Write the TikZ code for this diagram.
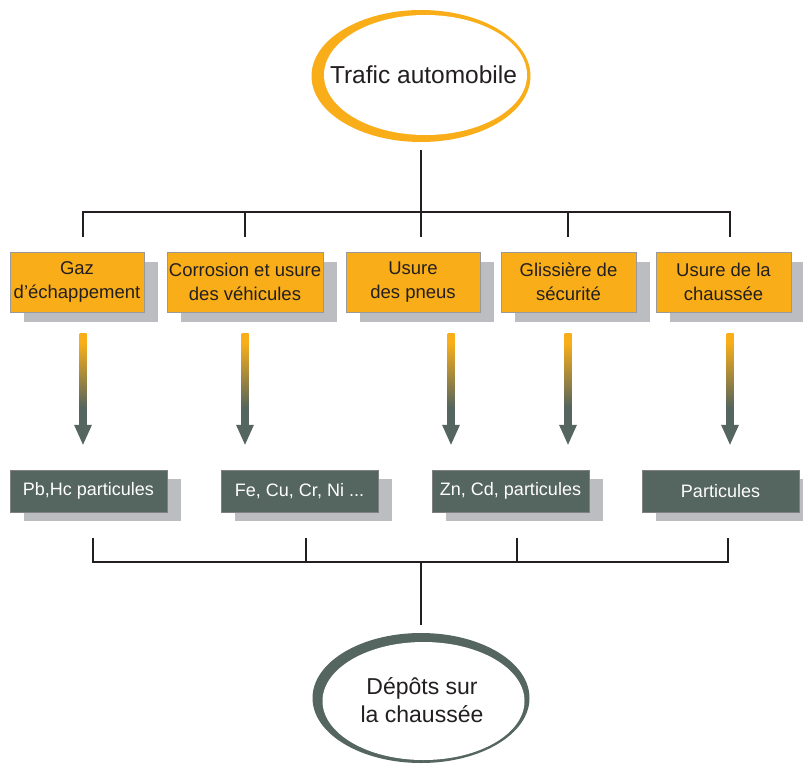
\documentclass[tikz,border=0pt]{standalone}
\usepackage{fontspec}
\setmainfont{Liberation Sans}
\usepackage{tikz}
\usetikzlibrary{calc,positioning,shapes.geometric,shadows}
\definecolor{TraficOrange}{HTML}{F9AE19}
\definecolor{DepotGrey}{HTML}{55655F}
\definecolor{ShadowGrey}{HTML}{BCBDC0}
\definecolor{InkBlack}{HTML}{231F20}
\pgfdeclareverticalshading{fluxshade}{100bp}{color(0bp)=(DepotGrey); color(35bp)=(DepotGrey); color(70bp)=(TraficOrange); color(100bp)=(TraficOrange)}
\tikzset{
  source/.style={draw=black!40, line width=0.5pt, fill=TraficOrange, text=InkBlack, minimum height=60pt, align=center, inner sep=0pt, font=\fontsize{18.5}{24}\selectfont, drop shadow={shadow xshift=14pt, shadow yshift=-10pt, fill=ShadowGrey, opacity=1}},
  polluant/.style={draw=black!50, line width=0.5pt, fill=DepotGrey, text=white, minimum width=157pt, minimum height=42pt, inner sep=0pt, font=\fontsize{18}{22}\selectfont, drop shadow={shadow xshift=14pt, shadow yshift=-9pt, fill=ShadowGrey, opacity=1}},
  anneau/.style={ellipse, inner sep=0pt},
  lien/.style={line width=1.1pt, InkBlack},
}

\begin{document}
\begin{tikzpicture}[x=1pt, y=1pt]
		\useasboundingbox (0,0) rectangle (803,-765);
		% ellipse du haut
		\node[anneau, fill=TraficOrange, minimum width=219pt, minimum height=132pt] (trafic) at (421,-76) {};
		\node[anneau, fill=white, minimum width=203pt, minimum height=120pt] (traficin) at ($(trafic.center)+(4.5,1)$) {};
		\node[text=InkBlack, font=\fontsize{24.5}{28}\selectfont] (trafictxt) at ($(traficin.center)+(-2,0)$) {Trafic automobile};
		% sources
		\node[source, minimum width=134pt] (gaz) at (77,-282) {Gaz\\d’échappement};
		\node[source, minimum width=156pt] (corrosion) at (245,-282) {Corrosion et usure\\des véhicules};
		\node[source, minimum width=134pt] (pneus) at (413,-282) {Usure\\des pneus};
		\node[source, minimum width=135pt] (glissiere) at (568.5,-282) {Glissière de\\sécurité};
		\node[source, minimum width=135pt] (chaussee) at (723.5,-282) {Usure de la\\chaussée};
		% polluants
		\node[polluant] (pb) at (88.5,-491) {Pb,Hc particules};
		\node[polluant] (fe) at (299.5,-491) {Fe, Cu, Cr, Ni ...};
		\node[polluant] (zn) at (510.5,-491) {Zn, Cd, particules};
		\node[polluant] (part) at (720.5,-491) {Particules};
		% ellipse du bas
		\node[anneau, fill=DepotGrey, minimum width=217pt, minimum height=130pt] (depots) at (421,-698) {};
		\node[anneau, fill=white, minimum width=202pt, minimum height=118pt] (depotsin) at ($(depots.center)+(2.5,-3)$) {};
		\node[align=center, text=InkBlack, font=\fontsize{23}{28}\selectfont] (depotstxt) at ($(depotsin.center)+(-1.5,1)$) {Dépôts sur\\la chaussée};
		% arbre du haut
		\coordinate (haut) at (421,-212);
		\draw[lien] ($(trafic.south)+(0,-8)$) -- (haut);
		\foreach \boite/\dx in {gaz/6, corrosion/0, pneus/8, glissiere/-0.5, chaussee/6.5}
			\draw[lien] ($(\boite.north)+(\dx,15)$) |- (haut);
		% arbre du bas
		\coordinate (bas) at (421,-562);
		\foreach \boite/\dx in {pb/4.5, fe/6.5, zn/6.5, part/7.5}
			\draw[lien] ($(\boite.south)+(\dx,-26)$) |- (bas);
		\draw[lien] (bas) -- ($(depots.north)+(0,8)$);
		% fleches
		\foreach \src/\dst/\x in {gaz/pb/83, corrosion/fe/245, pneus/zn/451, glissiere/zn/568, chaussee/part/730} {
			\coordinate (fx) at (\x,0);
			\shade[shading=fluxshade] ($(fx |- \src.south)+(-3.5,-21)$) rectangle ($(fx |- \dst.north)+(3.5,44)$);
			\fill[DepotGrey] ($(fx |- \dst.north)+(-9,45)$) -- ($(fx |- \dst.north)+(9,45)$) -- ($(fx |- \dst.north)+(0,25)$) -- cycle;
		}
	\end{tikzpicture}
\end{document}
